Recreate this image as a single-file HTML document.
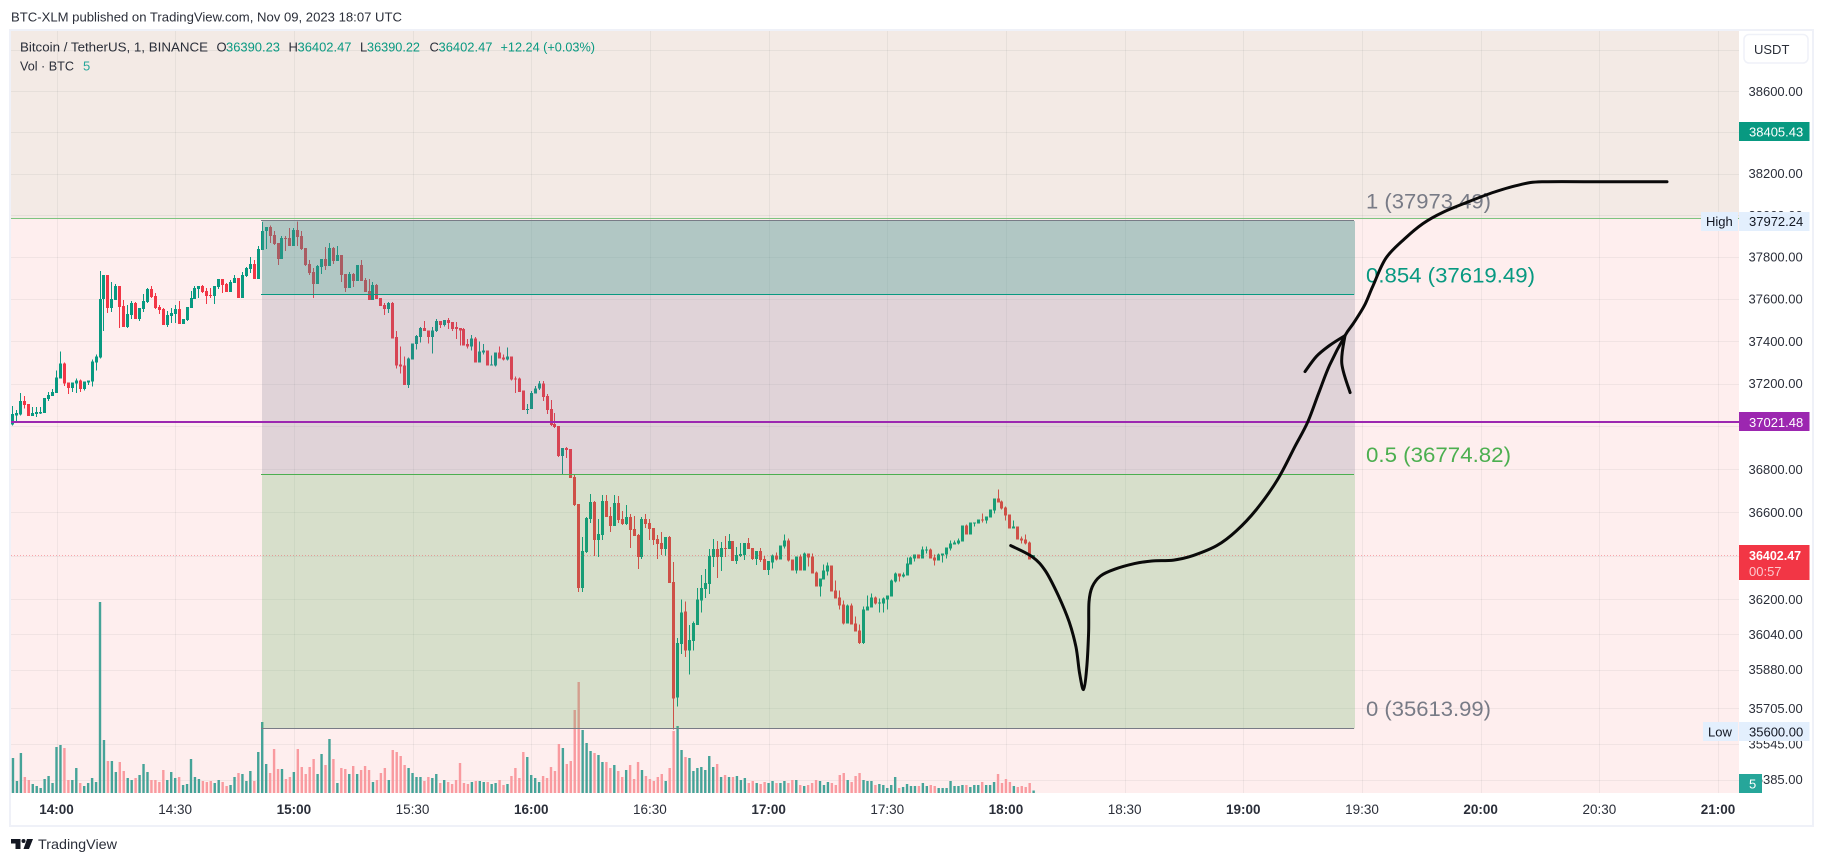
<!DOCTYPE html>
<html lang="en">
<head>
<meta charset="utf-8">
<title>BTC/USDT TradingView chart</title>
<style>
html,body{margin:0;padding:0;background:#fff;width:1824px;height:864px;overflow:hidden}
svg{display:block;font-family:"Liberation Sans",sans-serif}
.c{shape-rendering:crispEdges}
</style>
</head>
<body>
<svg id="chart" width="1824" height="864" viewBox="0 0 1824 864">
  <text x="11" y="21.5" font-size="13" fill="#2a2e39" textLength="391" lengthAdjust="spacingAndGlyphs">BTC-XLM published on TradingView.com, Nov 09, 2023 18:07 UTC</text>
  <rect x="10" y="30" width="1803" height="796" fill="#fff" stroke="#eff1f8" stroke-width="2"/>
  <g id="zones" class="c"></g>
  <g id="grid" class="c"></g>
  <g id="volumes"></g>
  <g id="candles" class="c"></g>
  <g id="fibFills" class="c"></g>
  <g id="lines" class="c"></g>
  <g id="fibLabels" font-size="21"></g>
  <g id="brush" fill="none" stroke="#0a0a0a" stroke-width="3" stroke-linecap="round" stroke-linejoin="round"></g>
  <rect x="1739" y="31" width="73" height="794" fill="#fff" class="c"/>
  <rect x="11" y="793" width="1801" height="32" fill="#fff" class="c"/>
  <g id="priceAxis" font-size="13" fill="#2a2e39"></g>
  <g id="timeAxis" font-size="13.5" fill="#2a2e39" text-anchor="middle"></g>
  <g id="tags" font-size="13"></g>

  <g>
    <rect x="1744" y="34.5" width="64" height="28.5" rx="5" fill="#fff" stroke="#eff1f8" stroke-width="1.5"/>
    <text x="1754" y="54" font-size="13" fill="#2a2e39">USDT</text>
  </g>

  <g font-size="13">
    <text x="20" y="51.5" fill="#2a2e39" textLength="188" lengthAdjust="spacingAndGlyphs">Bitcoin / TetherUS, 1, BINANCE</text>
    <text x="216.5" y="51.5" fill="#2a2e39">O</text>
    <text x="226" y="51.5" fill="#089981" textLength="54" lengthAdjust="spacingAndGlyphs">36390.23</text>
    <text x="288.5" y="51.5" fill="#2a2e39">H</text>
    <text x="297.5" y="51.5" fill="#089981" textLength="54" lengthAdjust="spacingAndGlyphs">36402.47</text>
    <text x="360" y="51.5" fill="#2a2e39">L</text>
    <text x="367" y="51.5" fill="#089981" textLength="53" lengthAdjust="spacingAndGlyphs">36390.22</text>
    <text x="429.5" y="51.5" fill="#2a2e39">C</text>
    <text x="438.5" y="51.5" fill="#089981" textLength="54" lengthAdjust="spacingAndGlyphs">36402.47</text>
    <text x="500.5" y="51.5" fill="#089981" textLength="94.5" lengthAdjust="spacingAndGlyphs">+12.24 (+0.03%)</text>
    <text x="20" y="70.5" fill="#2a2e39" textLength="54" lengthAdjust="spacingAndGlyphs">Vol · BTC</text>
    <text x="83" y="70.5" fill="#26a69a">5</text>
  </g>

  <g>
    <polygon points="11,839 20.5,839 20.5,849 15.5,849 15.5,843.5 11,843.5" fill="#131722"/>
    <circle cx="23.5" cy="841" r="2" fill="#131722"/>
    <polygon points="27,839 33,839 29,849 23.5,849" fill="#131722"/>
    <text x="38" y="849" font-size="14" fill="#2a2e39" textLength="79" lengthAdjust="spacingAndGlyphs">TradingView</text>
  </g>
</svg>

<script>
const opens=[37008,37052,37056,37119,37105,37048,37057,37060,37062,37129,
37143,37157,37224,37295,37205,37181,37200,37214,37176,37205,
37210,37300,37324,37600,37714,37557,37595,37662,37567,37467,
37524,37581,37505,37552,37586,37648,37614,37562,37552,37476,
37519,37529,37552,37481,37500,37557,37600,37648,37662,37638,
37619,37614,37657,37695,37671,37633,37676,37700,37605,37710,
37743,37767,37695,37833,37924,37943,37905,37867,37790,37890,
37890,37852,37929,37900,37843,37767,37729,37671,37752,37790,
37757,37843,37781,37810,37719,37652,37719,37686,37762,37690,
37638,37595,37667,37605,37571,37552,37581,37419,37290,37286,
37195,37314,37386,37419,37462,37452,37419,37448,37495,37476,
37500,37490,37467,37462,37457,37386,37376,37414,37300,37348,
37357,37286,37286,37348,37324,37314,37329,37224,37224,37167,
37076,37082,37154,37177,37202,37143,37082,37011,37002,36861,
36899,36894,36763,36639,36252,36418,36570,36648,36473,36496,
36653,36584,36538,36644,36570,36547,36579,36524,36496,36395,
36570,36552,36529,36478,36459,36432,36487,36280,35754,35997,
36145,35966,36010,36082,36195,36248,36271,36395,36432,36395,
36436,36432,36469,36377,36400,36404,36459,36436,36386,36423,
36386,36335,36370,36402,36384,36443,36471,36384,36333,36397,
36333,36411,36397,36324,36260,36292,36328,36356,36241,36209,
36177,36089,36172,36089,36057,36002,36149,36163,36209,36181,
36181,36200,36214,36282,36319,36305,36310,36361,36388,36407,
36388,36425,36430,36393,36379,36402,36407,36434,36453,36457,
36466,36540,36499,36549,36549,36568,36563,36577,36609,36664,
36650,36623,36591,36526,36535,36480,36476,36462,36390.23];
const highs=[37095,37076,37157,37143,37105,37090,37090,37090,37133,37162,
37175,37262,37352,37300,37205,37205,37224,37219,37210,37214,
37314,37338,37733,37714,37714,37681,37671,37662,37595,37571,
37590,37586,37557,37624,37652,37662,37629,37571,37557,37543,
37557,37571,37590,37505,37562,37638,37662,37662,37667,37652,
37652,37662,37695,37695,37676,37690,37714,37700,37729,37752,
37800,37786,37852,37967,37943,37952,37924,37867,37900,37900,
37938,37938,37971,37924,37843,37786,37748,37762,37790,37848,
37867,37848,37852,37810,37719,37729,37724,37762,37786,37700,
37695,37681,37671,37605,37581,37586,37586,37448,37376,37329,
37324,37390,37429,37467,37495,37452,37467,37505,37495,37500,
37510,37490,37490,37462,37462,37410,37429,37419,37400,37386,
37357,37333,37348,37376,37338,37371,37329,37233,37229,37167,
37105,37166,37190,37213,37213,37152,37124,37063,37002,36899,
36903,36894,36773,36639,36487,36579,36685,36653,36570,36680,
36680,36625,36680,36676,36607,36634,36593,36584,36501,36579,
36593,36570,36529,36496,36510,36487,36492,36372,36024,36200,
36190,36082,36100,36252,36312,36340,36432,36478,36469,36464,
36492,36501,36469,36441,36459,36459,36482,36436,36423,36436,
36400,36377,36407,36416,36448,36499,36480,36384,36397,36407,
36416,36411,36411,36328,36296,36361,36370,36356,36287,36241,
36195,36177,36181,36122,36085,36168,36218,36227,36214,36204,
36209,36218,36292,36324,36319,36324,36393,36397,36407,36407,
36443,36443,36434,36407,36411,36411,36439,36471,36471,36480,
36540,36545,36554,36554,36568,36595,36581,36614,36664,36706,
36655,36627,36591,36563,36535,36489,36499,36466,36402.47];
const lows=[37003,37016,37052,37083,37048,37048,37043,37057,37062,37119,
37143,37157,37224,37190,37152,37162,37157,37162,37167,37195,
37186,37262,37319,37448,37533,37538,37595,37462,37467,37462,
37505,37505,37495,37538,37581,37605,37552,37529,37476,37467,
37486,37486,37481,37481,37495,37557,37600,37605,37629,37576,
37605,37576,37648,37629,37633,37633,37676,37605,37605,37705,
37724,37695,37695,37833,37838,37867,37857,37762,37790,37829,
37852,37852,37852,37833,37757,37714,37605,37671,37719,37738,
37757,37767,37781,37681,37633,37652,37657,37686,37686,37633,
37595,37595,37600,37567,37524,37533,37414,37271,37248,37195,
37181,37314,37362,37395,37448,37390,37343,37443,37462,37471,
37457,37448,37410,37381,37381,37367,37357,37300,37300,37338,
37286,37286,37281,37319,37310,37310,37214,37157,37162,37076,
37057,37082,37154,37170,37119,37058,37002,36993,36856,36777,
36852,36759,36630,36234,36234,36413,36552,36400,36395,36473,
36579,36510,36538,36552,36542,36542,36436,36492,36340,36386,
36529,36473,36450,36386,36404,36400,36275,35610,35714,35952,
35938,35858,35966,36082,36141,36206,36225,36349,36298,36331,
36395,36432,36377,36363,36395,36381,36432,36381,36358,36372,
36335,36312,36342,36379,36384,36434,36374,36333,36319,36333,
36333,36351,36319,36260,36214,36292,36310,36236,36204,36154,
36085,36089,36085,36053,35997,35997,36149,36163,36177,36140,
36140,36154,36214,36278,36282,36301,36310,36361,36374,36388,
36388,36411,36388,36356,36379,36370,36388,36425,36453,36453,
36466,36499,36499,36535,36549,36554,36549,36577,36595,36646,
36614,36563,36526,36526,36476,36457,36453,36384,36390.22];
const closes=[37057,37062,37119,37100,37048,37062,37067,37067,37133,37148,
37162,37229,37295,37200,37181,37205,37214,37176,37210,37214,
37305,37329,37600,37714,37557,37600,37662,37562,37467,37529,
37581,37505,37557,37590,37648,37610,37557,37548,37476,37524,
37533,37552,37481,37505,37562,37605,37652,37662,37633,37614,
37614,37662,37695,37667,37633,37681,37700,37605,37714,37748,
37767,37695,37838,37924,37943,37900,37862,37790,37890,37886,
37852,37929,37895,37838,37762,37724,37671,37757,37790,37757,
37843,37781,37810,37714,37652,37719,37686,37762,37686,37633,
37595,37667,37600,37567,37552,37581,37414,37286,37281,37195,
37319,37390,37424,37462,37448,37419,37452,37495,37476,37500,
37486,37457,37457,37452,37381,37376,37414,37300,37352,37357,
37286,37290,37348,37319,37314,37329,37219,37219,37162,37076,
37081,37157,37177,37202,37138,37077,37007,36997,36861,36899,
36889,36759,36634,36252,36423,36575,36648,36473,36501,36653,
36579,36538,36644,36565,36547,36579,36519,36492,36395,36570,
36547,36524,36473,36455,36432,36487,36275,35750,36001,36141,
35966,36015,36092,36200,36252,36275,36400,36432,36395,36436,
36432,36469,36377,36404,36409,36459,36432,36386,36423,36381,
36335,36377,36402,36384,36448,36471,36379,36333,36397,36333,
36411,36393,36319,36260,36296,36333,36356,36236,36204,36172,
36089,36172,36085,36053,36002,36154,36168,36209,36181,36186,
36204,36218,36287,36319,36305,36315,36365,36393,36407,36388,
36430,36430,36388,36379,36407,36411,36439,36457,36462,36471,
36540,36499,36554,36554,36568,36563,36581,36614,36664,36646,
36618,36586,36526,36535,36476,36471,36457,36384,36402.47];
const volumes=[70,24,80,32,26,18,14,10,28,34,
20,92,96,90,26,26,50,20,14,20,
30,22,382,106,64,64,42,62,44,30,
26,30,36,58,42,26,26,22,46,26,
42,30,32,16,18,68,32,28,24,22,
24,20,26,22,14,16,32,40,38,24,
44,24,82,142,58,40,88,48,48,28,
32,42,88,52,38,52,68,38,78,56,
108,68,20,50,48,38,54,38,46,54,
46,22,26,40,50,26,86,82,74,56,
50,40,32,32,24,32,30,38,20,26,
22,18,26,60,20,18,22,24,24,22,
22,18,20,26,16,18,34,50,30,82,
72,36,30,22,34,30,52,44,98,90,
58,64,166,222,126,100,84,80,76,62,
62,50,56,44,32,46,56,28,62,46,
34,28,24,32,38,24,50,124,134,86,
72,70,44,50,52,46,74,52,58,32,
36,32,32,34,26,30,20,24,20,18,
22,20,24,20,20,24,20,26,26,16,
14,16,20,26,24,16,22,20,16,36,
40,26,22,34,40,26,24,24,16,18,
16,10,16,32,10,12,18,14,14,14,
20,14,16,14,10,10,10,24,14,14,
16,16,12,16,16,22,16,16,22,38,
20,28,22,14,12,14,12,20,5];

const priceTicks=[38800,38600,38400,38200,38000,37800,37600,37400,37200,37000,36800,36600,36400,36200,36040,35880,35705,35545,35385];
const timeTickLabels=['14:00','14:30','15:00','15:30','16:00','16:30','17:00','17:30','18:00','18:30','19:00','19:30','20:00','20:30','21:00'];

const fibPrices=[37973.49,37619.49,36774.82,35613.99];
const fibTexts=['1 (37973.49)','0.854 (37619.49)','0.5 (36774.82)','0 (35613.99)'];
const fibStartBar=63;
const fibEndBar=339.2;
const zoneBoundaryPrice=37986;
const resistancePrice=37021.48;
const lastPrice=36402.47;

const brushBars=[252.2,257.7,261,264.3,267,268.7,269.6,270.6,271.4,271.9,272,272.8,274.9,278.6,283.5,287.9,293.4,298.3,304.3,309.2,314.2,319.6,324,327.3,330.1,332.8,336.7,338.8,341.6,343.8,347.1,352,356.4,361.3,367.9,374.5,381,386.5,402.9,418.1];
const brushPrices=[36447,36395,36330,36215,36097,35983,35866,35790,35883,36048,36188,36257,36307,36339,36364,36376,36380,36401,36447,36514,36611,36750,36904,37021,37158,37286,37427,37484,37569,37664,37796,37891,37960,38013,38065,38112,38147,38161,38161,38161];
const arrowLeftBars=[326.6,329.5,332.8,336.7];
const arrowLeftPrices=[37257,37329,37380,37427];
const arrowRightBars=[336.7,335.9,338];
const arrowRightPrices=[37427,37295,37158];

const NS='http://www.w3.org/2000/svg';
function xOf(bar){return 56.5+(bar-11)*3.956;}
function yOf(price){return 91.3+7915*Math.log(38600/price);}
function vh(vol){return vol*0.5;}
function mk(tag,parent,attrs,text){
  const el=document.createElementNS(NS,tag);
  for(const k in attrs){el.setAttribute(k,attrs[k]);}
  if(text!==undefined){el.textContent=text;}
  parent.appendChild(el);
  return el;
}
function g(id){return document.getElementById(id);}
const LEFT=11,RIGHT=1739,TOP=31,BOTTOM=793;

/* background zones */
let zone=mk('rect',g('zones'),{x:LEFT,y:TOP,width:RIGHT-LEFT,height:yOf(zoneBoundaryPrice)-TOP,fill:'#f3eae5'});


zone=mk('rect',g('zones'),{x:LEFT,y:yOf(zoneBoundaryPrice),width:RIGHT-LEFT,height:BOTTOM-yOf(zoneBoundaryPrice),fill:'#feeeee'});



/* grid + price ticks */
priceTicks.forEach(function(p){
  const y=Math.round(yOf(p));
  const line=mk('rect',g('grid'),{x:LEFT,y:y,width:RIGHT-LEFT,height:1,fill:'rgba(42,46,57,0.06)'});
  
  
  const t=mk('text',g('priceAxis'),{x:1748.5,y:yOf(p)+4.5},p.toFixed(2));
  
  
});

/* time ticks */
timeTickLabels.forEach(function(label,k){
  const bar=11+k*30;
  const line=mk('rect',g('grid'),{x:Math.round(xOf(bar)),y:TOP,width:1,height:BOTTOM-TOP,fill:'rgba(42,46,57,0.06)'});
  
  
  const t=mk('text',g('timeAxis'),{x:xOf(bar),y:814,'font-weight':label.endsWith(':00')?'bold':'normal'},label);
  
  
});

/* volume */
volumes.forEach(function(v,i){
  const up=closes[i]>=opens[i];
  const h=Math.max(1,vh(v));
  const bar=mk('rect',g('volumes'),{x:xOf(i)-1.2,y:BOTTOM-h,width:2.4,height:h,fill:up?'#45a398':'#f99a9f'});
  
  
});

/* candles */
opens.forEach(function(o,i){
  const c=closes[i],up=c>=o,col=up?'#089981':'#f23645';
  const cx=xOf(i);
  const wick=mk('rect',g('candles'),{x:Math.round(cx-0.5),y:yOf(highs[i]),width:1,height:Math.max(1,yOf(lows[i])-yOf(highs[i])),fill:col});
  
  
  const top=yOf(Math.max(o,c)),bot=yOf(Math.min(o,c));
  const body=mk('rect',g('candles'),{x:Math.round(cx-1.5),y:top,width:3,height:Math.max(1,bot-top),fill:col});
  
  
});

/* fib fills */
const fibFillColors=['rgba(71,145,138,0.42)','rgba(118,120,143,0.22)','rgba(77,174,84,0.22)'];
fibFillColors.forEach(function(col,k){
  const y0=yOf(fibPrices[k]),y1=yOf(fibPrices[k+1]);
  const f=mk('rect',g('fibFills'),{x:xOf(fibStartBar),y:y0,width:xOf(fibEndBar)-xOf(fibStartBar),height:y1-y0,fill:col});
  
  
});

/* fib lines + labels */
const fibLineColors=['#787b86','#089981','#4caf50','#787b86'];
const fibTextWidths=[125,169,145,125];
fibPrices.forEach(function(p,k){
  const line=mk('rect',g('lines'),{x:xOf(fibStartBar)-1,y:Math.round(yOf(p)-0.5),width:xOf(fibEndBar)-xOf(fibStartBar),height:1,fill:fibLineColors[k]});
  
  
  const t=mk('text',g('fibLabels'),{x:1366,y:yOf(p)-12.5,fill:fibLineColors[k],textLength:fibTextWidths[k],lengthAdjust:'spacingAndGlyphs'},fibTexts[k]);
  
  
});

/* horizontal lines */
let hl=mk('rect',g('lines'),{x:LEFT,y:Math.round(yOf(zoneBoundaryPrice)),width:RIGHT-LEFT,height:1,fill:'#7dc47f'});


hl=mk('rect',g('lines'),{x:LEFT,y:Math.round(yOf(resistancePrice)-1),width:RIGHT-LEFT,height:2,fill:'#9c27b0'});


hl=mk('line',g('lines'),{x1:LEFT,x2:RIGHT,y1:Math.round(yOf(lastPrice))+0.5,y2:Math.round(yOf(lastPrice))+0.5,stroke:'#f2364566','stroke-width':1,'stroke-dasharray':'1 2'});



/* brush strokes */
function smooth(bars,prices){
  const pts=bars.map(function(b,i){return [xOf(b),yOf(prices[i])];});
  let d='M'+pts[0][0].toFixed(1)+' '+pts[0][1].toFixed(1);
  for(let i=0;i<pts.length-1;i++){
    const p0=pts[Math.max(0,i-1)],p1=pts[i],p2=pts[i+1],p3=pts[Math.min(pts.length-1,i+2)];
    const c1x=p1[0]+(p2[0]-p0[0])/6,c1y=p1[1]+(p2[1]-p0[1])/6;
    const c2x=p2[0]-(p3[0]-p1[0])/6,c2y=p2[1]-(p3[1]-p1[1])/6;
    d+=' C'+c1x.toFixed(1)+' '+c1y.toFixed(1)+' '+c2x.toFixed(1)+' '+c2y.toFixed(1)+' '+p2[0].toFixed(1)+' '+p2[1].toFixed(1);
  }
  return d;
}
let stroke=mk('path',g('brush'),{d:smooth(brushBars,brushPrices)});


stroke=mk('path',g('brush'),{d:smooth(arrowLeftBars,arrowLeftPrices)});


stroke=mk('path',g('brush'),{d:smooth(arrowRightBars,arrowRightPrices)});



/* price tags */
const tagPrices=[38405.43,37972.24,37021.48,35600];
const tagFills=['#089981','#e3effd','#9c27b0','#e3effd'];
const tagInk=['#ffffff','#131722','#ffffff','#131722'];
tagPrices.forEach(function(p,k){
  const y=yOf(p);
  const box=mk('rect',g('tags'),{x:1739,y:Math.round(y-9.5),width:70.5,height:19,fill:tagFills[k]});
  
  
  const t=mk('text',g('tags'),{x:1749,y:y+5,fill:tagInk[k]},p.toFixed(2));
  
  
});
const hiLoPrices=[37972.24,35600];
const hiLoTexts=['High','Low'];
const hiLoLeft=[1701,1703];
hiLoPrices.forEach(function(p,k){
  const y=yOf(p);
  const box=mk('rect',g('tags'),{x:hiLoLeft[k],y:Math.round(y-9.5),width:1738-hiLoLeft[k],height:19,fill:'#e3effd'});
  
  
  const t=mk('text',g('tags'),{x:hiLoLeft[k]+5,y:y+5,fill:'#131722'},hiLoTexts[k]);
  
  
});

/* last price tag */
const lastY=yOf(lastPrice);
const lastBox=mk('rect',g('tags'),{x:1739,y:Math.round(lastY-10),width:70.5,height:35,fill:'#f23645'});


const lastTxt=mk('text',g('tags'),{x:1749,y:lastY+5,fill:'#fff','font-weight':'bold','font-size':12.5},lastPrice.toFixed(2));


const cdTxt=mk('text',g('tags'),{x:1749,y:lastY+21,fill:'#fcc8cd'},'00:57');



/* last volume badge */
const volBox=mk('rect',g('tags'),{x:1739,y:774,width:23,height:19,fill:'#26a69a'});


const volTxt=mk('text',g('tags'),{x:1749,y:788.5,fill:'#fff','text-anchor':'start'},String(volumes[volumes.length-1]));


</script>
</body>
</html>
